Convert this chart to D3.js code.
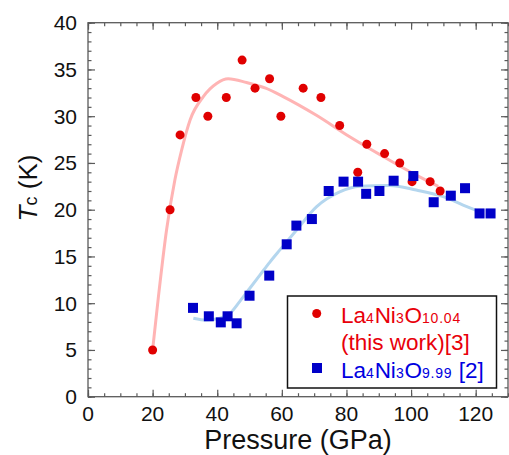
<!DOCTYPE html>
<html>
<head>
<meta charset="utf-8">
<script src="https://cdn.jsdelivr.net/npm/d3@7"></script>
<style>
  body { margin: 0; background: #fff; }
  text { font-family: "Liberation Sans", Arial, sans-serif; }
</style>
</head>
<body>
<div id="chart"></div>
<script>
// size of the page
var width = 509;
var height = 455;

// La4Ni3O10.04 (this work) - pressure (GPa) / Tc (K)
var redP  = [20, 25.4, 28.5, 33.4, 37.1, 42.8, 47.7, 51.7, 56.2, 59.7, 66.6, 72.1, 77.9, 83.5, 86.3, 91.8, 96.5, 100.3, 105.9, 109.0];
var redTc = [5, 20, 28, 32, 30, 32, 36, 33, 34, 30, 33, 32, 29, 24, 27, 26, 25, 23, 23, 22];

// La4Ni3O9.99 [2]
var blueP  = [32.5, 37.4, 41.1, 43.2, 46.0, 50.0, 56.1, 61.5, 64.5, 69.3, 74.5, 79.1, 83.6, 86.1, 90.2, 94.6, 100.7, 107.0, 112.3, 116.7, 121.2, 124.6];
var blueTc = [9.5, 8.6, 7.95, 8.6, 7.85, 10.8, 12.95, 16.3, 18.3, 19.0, 22.0, 23.0, 23.0, 21.7, 22.0, 23.1, 23.6, 20.8, 21.5, 22.3, 19.6, 19.6];

// guide-to-eye curves
var redFitP  = [20, 21.8, 24.3, 26.9, 29.0, 31.6, 35.7, 39.8, 43.4, 49.1, 55, 60.4, 70.7, 81.0, 91.3, 101.6, 108.4];
var redFitTc = [5, 10.7, 17.8, 23.2, 26.4, 29.6, 32.1, 33.5, 34.0, 33.6, 33.0, 32.1, 30.1, 27.8, 25.7, 23.7, 22.5];
var blueFitP  = [32.6, 36.7, 40.8, 43.9, 47.0, 50.1, 53.2, 56.3, 59.4, 64.5, 70.7, 77.9, 84.1, 93.4, 101.6, 109.9, 116.1, 121.2];
var blueFitTc = [8.4, 8.2, 8.4, 8.9, 10.2, 11.6, 13.0, 14.4, 15.7, 17.8, 20.3, 21.9, 22.5, 22.6, 22.1, 21.4, 20.5, 19.8];

var xMajor = [0, 20, 40, 60, 80, 100, 120];
var yMajor = [0, 5, 10, 15, 20, 25, 30, 35, 40];

var margin = {left: 88, top: 22.7, right: 1, bottom: 58.3};
var pw = width - margin.left - margin.right;
var ph = height - margin.top - margin.bottom;

var x = d3.scaleLinear().domain([0, 130]).range([0, pw]);
var y = d3.scaleLinear().domain([0, 40]).range([ph, 0]);

const svg = d3.select("#chart")
  .append("svg")
  .attr("width", width)
  .attr("height", height);

const g = svg.append("g")
  .attr("transform", "translate(" + margin.left + "," + margin.top + ")");

var axisColor = "#5a5a5a";

// minor + major ticks, all pointing inward
function styleAxis(sel) {
  sel.select(".domain").remove();
  sel.selectAll("line").attr("stroke", axisColor).attr("stroke-width", 1.2);
  sel.selectAll("text").remove();
}
g.append("g").attr("transform", "translate(0," + ph + ")")
  .call(d3.axisBottom(x).tickValues(d3.range(0, 131, 5)).tickSize(-3.5)).call(styleAxis);
g.append("g").attr("transform", "translate(0," + ph + ")")
  .call(d3.axisBottom(x).tickValues(xMajor).tickSize(-7)).call(styleAxis);
g.append("g")
  .call(d3.axisTop(x).tickValues(d3.range(0, 131, 5)).tickSize(-3.5)).call(styleAxis);
g.append("g")
  .call(d3.axisTop(x).tickValues(xMajor).tickSize(-7)).call(styleAxis);
g.append("g")
  .call(d3.axisLeft(y).tickValues(d3.range(0, 41, 1)).tickSize(-3.5)).call(styleAxis);
g.append("g")
  .call(d3.axisLeft(y).tickValues(yMajor).tickSize(-7)).call(styleAxis);
g.append("g").attr("transform", "translate(" + pw + ",0)")
  .call(d3.axisRight(y).tickValues(d3.range(0, 41, 1)).tickSize(-3.5)).call(styleAxis);
g.append("g").attr("transform", "translate(" + pw + ",0)")
  .call(d3.axisRight(y).tickValues(yMajor).tickSize(-7)).call(styleAxis);

// frame
g.append("rect")
  .attr("width", pw).attr("height", ph)
  .attr("fill", "none")
  .attr("stroke", axisColor)
  .attr("stroke-width", 1.3);

// tick labels
g.selectAll(".xlab")
  .data(xMajor)
  .enter()
  .append("text")
  .attr("x", d => x(d))
  .attr("y", ph + 24.5)
  .attr("text-anchor", "middle")
  .style("font-size", "21px")
  .attr("fill", "#111")
  .text(d => d);

g.selectAll(".ylab")
  .data(yMajor)
  .enter()
  .append("text")
  .attr("x", -11)
  .attr("y", d => y(d))
  .attr("dy", "0.36em")
  .attr("text-anchor", "end")
  .style("font-size", "21px")
  .attr("fill", "#111")
  .text(d => d);

// axis titles
svg.append("text")
  .attr("x", margin.left + pw / 2)
  .attr("y", 449)
  .attr("text-anchor", "middle")
  .style("font-size", "27px")
  .attr("fill", "#111")
  .text("Pressure (GPa)");

const yt = svg.append("text")
  .attr("transform", "translate(37,188) rotate(-90)")
  .attr("text-anchor", "middle")
  .style("font-size", "26px")
  .attr("fill", "#111");
yt.append("tspan").style("font-style", "italic").text("T");
yt.append("tspan").style("font-size", "18px").text("c");
yt.append("tspan").text(" (K)");

// fit curves
const line = d3.line()
  .x(d => x(d[0]))
  .y(d => y(d[1]))
  .curve(d3.curveMonotoneX);

g.append("path")
  .datum(redFitP.map((p, i) => [p, redFitTc[i]]))
  .attr("d", line)
  .attr("fill", "none")
  .attr("stroke", "#ffb4b4")
  .attr("stroke-width", 3);

g.append("path")
  .datum(blueFitP.map((p, i) => [p, blueFitTc[i]]))
  .attr("d", line)
  .attr("fill", "none")
  .attr("stroke", "#b4d6ee")
  .attr("stroke-width", 3);

// data points
g.selectAll("circle.red")
  .data(redP.map((p, i) => [p, redTc[i]]))
  .enter()
  .append("circle")
  .attr("cx", d => x(d[0]))
  .attr("cy", d => y(d[1]))
  .attr("r", 4.5)
  .style("fill", "#e00000");

g.selectAll("rect.blue")
  .data(blueP.map((p, i) => [p, blueTc[i]]))
  .enter()
  .append("rect")
  .attr("x", d => x(d[0]) - 5)
  .attr("y", d => y(d[1]) - 5)
  .attr("width", 10)
  .attr("height", 10)
  .style("fill", "#0000c8");

// legend
const lg = svg.append("g");
lg.append("rect")
  .attr("x", 287.5).attr("y", 296)
  .attr("width", 209).attr("height", 92)
  .attr("fill", "#fff")
  .attr("stroke", "#111")
  .attr("stroke-width", 1.5);

lg.append("circle").attr("cx", 316.7).attr("cy", 313.5).attr("r", 4.5).style("fill", "#e00000");
lg.append("rect").attr("x", 312).attr("y", 363).attr("width", 10).attr("height", 10).style("fill", "#0000c8");

function formula(sub, after, yy, color) {
  const tx = lg.append("text")
    .attr("x", 341)
    .attr("y", yy)
    .style("font-size", "22.5px")
    .attr("fill", color);
  tx.append("tspan").text("La");
  tx.append("tspan").style("font-size", "14px").style("letter-spacing", "0.8px").text("4");
  tx.append("tspan").text("Ni");
  tx.append("tspan").style("font-size", "14px").style("letter-spacing", "0.8px").text("3");
  tx.append("tspan").text("O");
  tx.append("tspan").style("font-size", "14px").style("letter-spacing", "0.8px").text(sub);
  if (after) tx.append("tspan").text(after);
}
formula("10.04", "", 322.5, "#e8000a");
lg.append("text")
  .attr("x", 341).attr("y", 349.5)
  .style("font-size", "22.5px")
  .attr("fill", "#e8000a")
  .text("(this work)[3]");
formula("9.99", " [2]", 377.5, "#0000e0");
</script>
</body>
</html>
